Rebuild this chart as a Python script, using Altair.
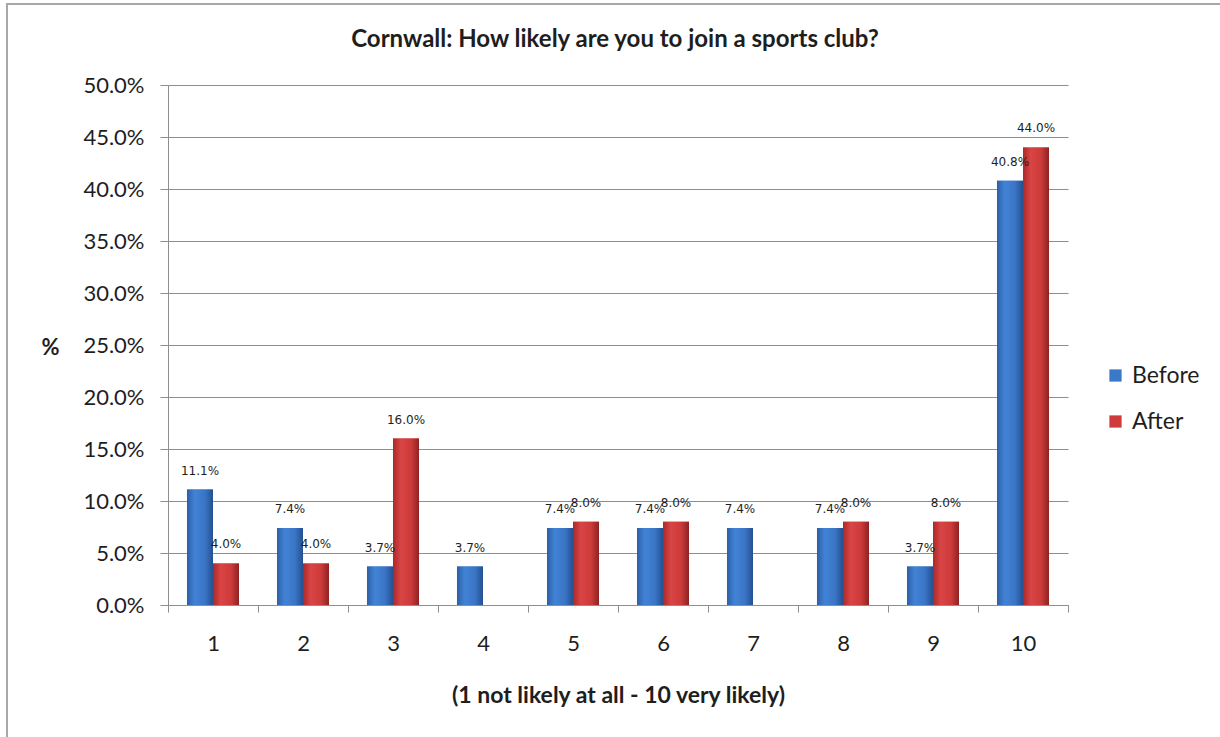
import altair as alt
import pandas as pd

# Survey answers on a 1-10 scale, share of respondents before and after
categories = ["1", "2", "3", "4", "5", "6", "7", "8", "9", "10"]
before = [0.111, 0.074, 0.037, 0.037, 0.074, 0.074, 0.074, 0.074, 0.037, 0.408]
after = [0.040, 0.040, 0.160, None, 0.080, 0.080, None, 0.080, 0.080, 0.440]
series = ["Before", "After"]
y_ticks = [0.0, 0.05, 0.10, 0.15, 0.20, 0.25, 0.30, 0.35, 0.40, 0.45, 0.50]
title_text = "Cornwall: How likely are you to join a sports club?"

rows = []
for c, b, a in zip(categories, before, after):
    rows.append({"score": c, "series": "Before", "value": b})
    rows.append({"score": c, "series": "After", "value": a})
df = pd.DataFrame(rows)

FONT = "Lato"
TXT = "#1e1e1e"
GRID = "#8e8e8e"

W, H = 900, 520
PAD_L, PAD_T = 168, 85

x_enc = alt.X(
    "score:N",
    sort=categories,
    scale=alt.Scale(paddingInner=0, paddingOuter=0),
    axis=alt.Axis(
        title="(1 not likely at all - 10 very likely)",
        labelAngle=0,
        labelFontSize=22,
        labelColor=TXT,
        labelFont=FONT,
        labelPadding=21,
        tickBand="extent",
        tickSize=7,
        tickColor=GRID,
        domainColor=GRID,
        titleFont=FONT,
        titleFontSize=23,
        titleFontWeight="bold",
        titleColor=TXT,
        titleBaseline="middle",
        titleY=90,
        grid=False,
    ),
)
xoff_enc = alt.XOffset(
    "series:N",
    scale=alt.Scale(domain=series, paddingInner=0, paddingOuter=0.73),
)
y_enc = alt.Y(
    "value:Q",
    scale=alt.Scale(domain=[0, 0.5], nice=False),
    axis=alt.Axis(
        title="%",
        titleAngle=0,
        titleFont=FONT,
        titleFontSize=22,
        titleFontWeight="bold",
        titleColor=TXT,
        titleBaseline="middle",
        titleAlign="center",
        titleX=-118,
        titleY=262,
        values=y_ticks,
        format=".1%",
        labelFontSize=22,
        labelFont=FONT,
        labelColor=TXT,
        labelPadding=16,
        tickSize=8,
        tickColor=GRID,
        domainColor=GRID,
        gridColor=GRID,
        gridWidth=1,
    ),
)

base = alt.Chart(df).transform_filter("isValid(datum.value)")

# Solid bars carry the legend
bars = base.mark_bar().encode(
    x=x_enc,
    xOffset=xoff_enc,
    y=y_enc,
    color=alt.Color(
        "series:N",
        scale=alt.Scale(domain=series, range=["#3c78c9", "#cf3b3b"]),
        legend=alt.Legend(
            title=None,
            orient="none",
            legendX=936,
            legendY=279,
            symbolType="square",
            symbolSize=150,
            symbolStrokeWidth=0,
            labelFontSize=23,
            labelFont=FONT,
            labelColor=TXT,
            labelOffset=5,
            rowPadding=22,
        ),
    ),
)


def shaded(name, stops):
    grad = {
        "gradient": "linear",
        "x1": 0, "x2": 1, "y1": 0, "y2": 0,
        "stops": [{"offset": o, "color": c} for o, c in stops],
    }
    return (
        base.transform_filter(alt.datum.series == name)
        .mark_bar(color=grad)
        .encode(x=x_enc, xOffset=xoff_enc, y=y_enc)
    )


blue = shaded("Before", [(0, "#2d5fa6"), (0.3, "#4283d6"), (0.7, "#3a74c5"), (1, "#24508f")])
red = shaded("After", [(0, "#a92a2a"), (0.3, "#da4444"), (0.7, "#cc3a3a"), (1, "#8e2222")])

labels = base.mark_text(
    fontSize=12, font="DejaVu Sans", color=TXT, baseline="middle", dy=-19
).encode(
    x=x_enc,
    xOffset=xoff_enc,
    y=y_enc,
    text=alt.Text("value:Q", format=".1%"),
)

one = pd.DataFrame({"k": [0]})

# Outer chart frame
frame = alt.Chart(one).mark_rect(
    fill="transparent", stroke="#a8a8a8", strokeWidth=2
).encode(
    x=alt.value(7 - PAD_L),
    x2=alt.value(1240 - PAD_L),
    y=alt.value(4 - PAD_T),
    y2=alt.value(760 - PAD_T),
)

# Chart heading
heading = alt.Chart(one).mark_text(
    text=title_text,
    font=FONT,
    fontSize=24,
    fontWeight="bold",
    color=TXT,
    align="center",
    baseline="middle",
).encode(x=alt.value(W / 2 - 3), y=alt.value(40 - PAD_T))

chart = (
    alt.layer(frame, heading, bars, blue, red, labels)
    .properties(
        width=W,
        height=H,
        autosize=alt.AutoSizeParams(type="none"),
        padding={"left": PAD_L, "top": PAD_T, "right": 1220 - PAD_L - W, "bottom": 737 - PAD_T - H},
        background="white",
    )
    .configure_view(stroke=None)
)

chart.save("out.html", embed_options={"renderer": "svg", "actions": False})
